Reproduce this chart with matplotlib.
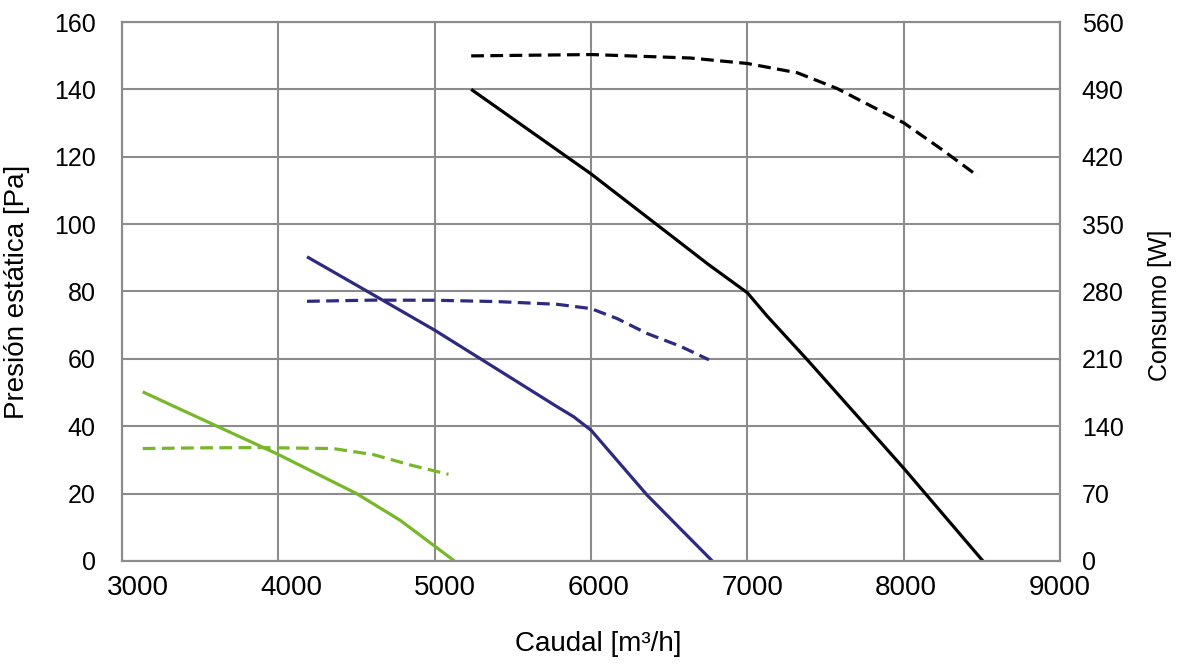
import matplotlib
matplotlib.use('Agg')
import matplotlib.pyplot as plt
from matplotlib.transforms import ScaledTranslation

# Presion estatica [Pa] (eje izquierdo)
q_verde = [3132, 3500, 4000, 4500, 4778, 5126]
p_verde = [50.2, 42.3, 31.6, 20.0, 12.1, 0.0]
q_azul = [4183, 4600, 5000, 5400, 5782, 5889, 6000, 6359, 6775]
p_azul = [90.3, 79.2, 68.5, 56.9, 45.8, 42.8, 38.8, 19.5, 0.0]
q_negro = [5233, 6000, 6405, 6748, 7000, 7126, 7389, 7732, 8000, 8506]
p_negro = [140.0, 114.9, 100.4, 88.1, 79.6, 72.7, 59.4, 41.5, 27.5, 0.0]

# Consumo [W] (eje derecho)
qc_verde = [3132, 3500, 3880, 4350, 4607, 4852, 5088]
w_verde = [116.8, 117.5, 117.8, 116.8, 110.5, 99.4, 90.0]
qc_azul = [4183, 4600, 5000, 5400, 5782, 6000, 6167, 6359, 6572, 6754]
w_azul = [269.8, 271.0, 270.9, 269.5, 266.7, 262.2, 251.8, 236.3, 223.0, 209.0]
qc_negro = [5233, 6000, 6634, 7000, 7320, 7572, 8000, 8236, 8476]
w_negro = [524.8, 526.2, 522.6, 516.9, 507.2, 491.0, 455.2, 428.4, 399.7]

x_ticks = [3000, 4000, 5000, 6000, 7000, 8000, 9000]
y_ticks = [0, 20, 40, 60, 80, 100, 120, 140, 160]
y2_ticks = [0, 70, 140, 210, 280, 350, 420, 490, 560]

verde = '#77b82a'
azul = '#2e2a80'
negro = '#000000'
gris = '#8c8c8c'

plt.rcParams['font.family'] = ['Liberation Sans', 'DejaVu Sans']

fig = plt.figure(figsize=(11.77, 6.67), dpi=100)
ax = fig.add_axes([0.1037, 0.159, 0.797, 0.808])
ax2 = ax.twinx()

lw = 2.3
dash = (0, (4, 2))
ax.plot(q_verde, p_verde, color=verde, lw=lw, solid_capstyle='butt')
ax.plot(q_azul, p_azul, color=azul, lw=lw, solid_capstyle='butt')
ax.plot(q_negro, p_negro, color=negro, lw=lw, solid_capstyle='butt')
ax2.plot(qc_verde, w_verde, color=verde, lw=lw, linestyle=dash)
ax2.plot(qc_azul, w_azul, color=azul, lw=lw, linestyle=dash)
ax2.plot(qc_negro, w_negro, color=negro, lw=lw, linestyle=dash)

ax.set_xlim(3000, 9000)
ax.set_ylim(0, 160)
ax2.set_ylim(0, 560)
ax.set_xticks(x_ticks)
ax.set_yticks(y_ticks)
ax2.set_yticks(y2_ticks)

ax.grid(True, color=gris, lw=1.5)
ax.set_axisbelow(True)
for a in (ax, ax2):
    for s in a.spines.values():
        s.set_color(gris)
        s.set_linewidth(1.5)

ax.tick_params(axis='y', length=0, pad=19, labelsize=18)
ax.tick_params(axis='x', length=0, pad=10, labelsize=20)
ax2.tick_params(axis='y', length=0, pad=15.5, labelsize=18)

# etiquetas del eje x algo desplazadas a la derecha, como en el original
for i, t in enumerate(ax.get_xticklabels()):
    dx = (16 - 2.8 * i) / 100
    t.set_transform(t.get_transform() + ScaledTranslation(dx, 0, fig.dpi_scale_trans))

ax.set_ylabel('Presión estática [Pa]', fontsize=20, labelpad=17)
ax2.set_ylabel('Consumo [W]', fontsize=18, labelpad=15)
ax2.yaxis.set_label_coords(1.094, 0.475)
ax.set_xlabel('Caudal [m³/h]', fontsize=20, labelpad=22)
ax.xaxis.set_label_coords(0.508, -0.13)

fig.savefig('out.png', dpi=100)
